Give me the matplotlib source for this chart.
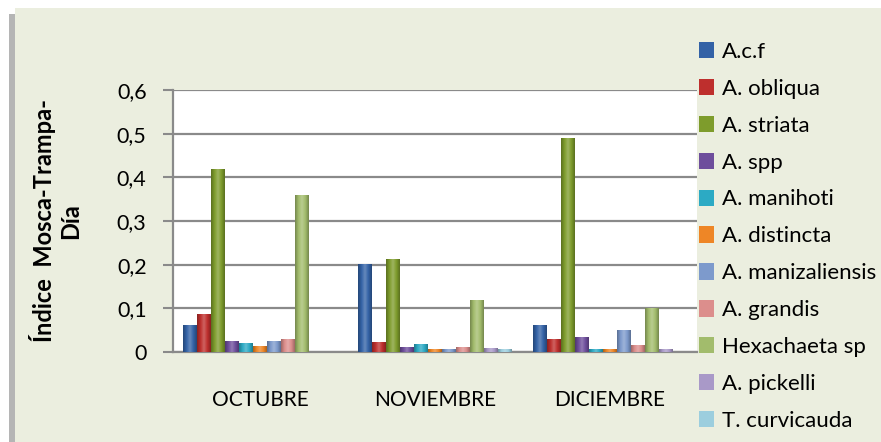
import matplotlib
matplotlib.use("Agg")
import matplotlib.pyplot as plt
import numpy as np
from matplotlib.patches import Rectangle
from matplotlib.colors import LinearSegmentedColormap, to_rgb
from matplotlib import font_manager

months = ["OCTUBRE", "NOVIEMBRE", "DICIEMBRE"]
species = ["A.c.f", "A. obliqua", "A. striata", "A. spp", "A. manihoti",
           "A. distincta", "A. manizaliensis", "A. grandis", "Hexachaeta sp",
           "A. pickelli", "T. curvicauda"]
acf = [0.062, 0.202, 0.062]
obliqua = [0.087, 0.023, 0.030]
striata = [0.420, 0.214, 0.490]
spp = [0.025, 0.012, 0.035]
manihoti = [0.020, 0.018, 0.008]
distincta = [0.014, 0.007, 0.008]
manizaliensis = [0.025, 0.007, 0.050]
grandis = [0.030, 0.012, 0.016]
hexachaeta = [0.360, 0.120, 0.100]
pickelli = [0.000, 0.009, 0.006]
curvicauda = [0.000, 0.007, 0.000]
series = [acf, obliqua, striata, spp, manihoti, distincta, manizaliensis,
          grandis, hexachaeta, pickelli, curvicauda]
colors = ["#3362A6", "#BE2F2D", "#7E9C2C", "#6E4E9C", "#2CAAC4", "#EE8626",
          "#7D9ACC", "#DC8E8C", "#A2BC6C", "#A999C8", "#9CCEDE"]
yticks = [0, 0.1, 0.2, 0.3, 0.4, 0.5, 0.6]
yticklabels = ["0", "0,1", "0,2", "0,3", "0,4", "0,5", "0,6"]

avail = {f.name for f in font_manager.fontManager.ttflist}
fam = [f for f in ["Lato", "Open Sans", "DejaVu Sans"] if f in avail]
plt.rcParams['font.family'] = fam

W, H = 881, 442
fig = plt.figure(figsize=(W / 100, H / 100), dpi=100)
fig.patch.set_facecolor("white")
# shadow + panel
fig.add_artist(Rectangle((9 / W, 0), 7 / W, (H - 14) / H, transform=fig.transFigure,
                         facecolor="#B5B5B5", edgecolor="none", zorder=0))
fig.add_artist(Rectangle((15 / W, 0), 1, (H - 8) / H, transform=fig.transFigure,
                         facecolor="#EBEEDF", edgecolor="none", zorder=0))

ax = fig.add_axes([173 / W, 90 / H, 524 / W, 262 / H])
ax.set_facecolor("white")
ax.set_xlim(-0.5, 2.5)
ax.set_ylim(0, 0.6)

w = 0.08
x = np.arange(len(months))
for i, (vals, c) in enumerate(zip(series, colors)):
    pos = x + (i - 5) * w
    bars = ax.bar(pos, vals, width=w, color=c, label=species[i], zorder=3,
                  edgecolor="none")
    rgb = np.array(to_rgb(c))
    dark = rgb * 0.72
    light = np.clip(rgb + (1 - rgb) * 0.25, 0, 1)
    cmap = LinearSegmentedColormap.from_list("g", [dark, rgb, light, rgb, dark])
    grad = np.linspace(0, 1, 64).reshape(1, -1)
    for b in bars:
        hgt = b.get_height()
        if hgt <= 0:
            continue
        x0 = b.get_x()
        im = ax.imshow(grad, cmap=cmap, extent=(x0, x0 + b.get_width(), 0, hgt),
                       aspect="auto", zorder=4, interpolation="bilinear")
        im.set_clip_path(b)
ax.set_xlim(-0.5, 2.5)
ax.set_ylim(0, 0.6)

ax.set_yticks(yticks)
ax.set_yticklabels(yticklabels, fontsize=15.5)
ax.set_xticks(x)
ax.set_xticklabels(months, fontsize=15)
ax.tick_params(axis="x", length=0, pad=27)
ax.tick_params(axis="y", length=7, width=1.5, color="#8A8A8A", pad=12)
ax.yaxis.grid(True, color="#8A8A8A", linewidth=1.6, zorder=1)
ax.set_axisbelow(True)
for s in ["top", "right"]:
    ax.spines[s].set_visible(False)
for s in ["left", "bottom"]:
    ax.spines[s].set_color("#8A8A8A")
    ax.spines[s].set_linewidth(1.6)

ax.set_ylabel("Índice  Mosca-Trampa-\nDía", fontsize=17, fontweight="bold",
              labelpad=25, linespacing=1.15)

handles = [Rectangle((0, 0), 1, 1, facecolor=c, edgecolor="none") for c in colors]
leg = fig.legend(handles, species, loc="upper left",
                 bbox_to_anchor=(690 / W, 1 - 33 / H), frameon=False,
                 fontsize=16, handlelength=0.68, handleheight=0.75,
                 handletextpad=0.35, labelspacing=0.76, borderaxespad=0)

fig.savefig("out.png", dpi=100, facecolor=fig.get_facecolor())
